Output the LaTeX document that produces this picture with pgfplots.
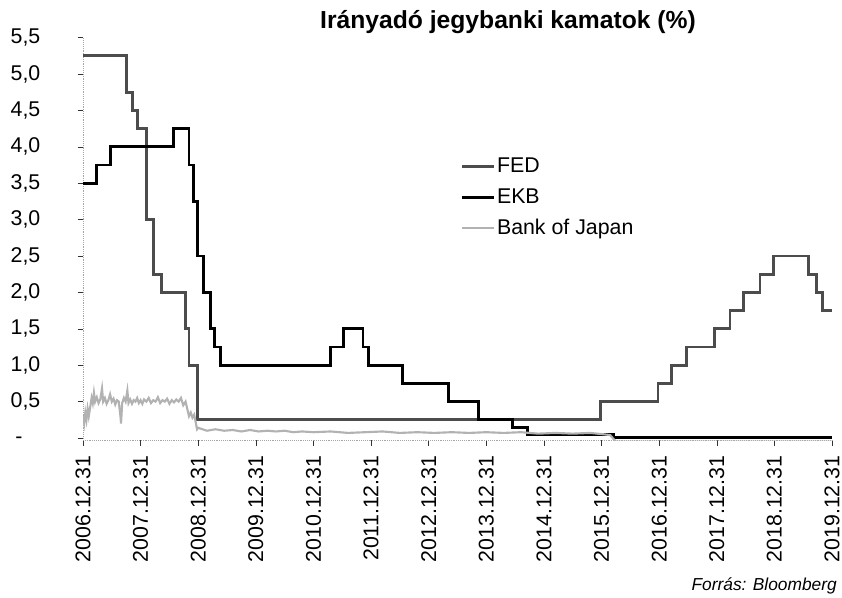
\documentclass[border=0pt]{standalone}
\usepackage{pgfplots}
\pgfplotsset{compat=1.18}
\usepackage{fontspec}
\setmainfont{Liberation Sans}
\begin{document}
\begin{tikzpicture}[x=1pt,y=1pt]
\useasboundingbox (0,0) rectangle (631.5,447.75);
\begin{axis}[
  at={(62.25pt,117.6pt)}, anchor=south west,
  scale only axis, width=561.75pt, height=301.95pt,
  xmin=2007, xmax=2020, ymin=-0.03, ymax=5.5,
  axis x line=bottom, axis y line=left,
  axis line style={gray!70, densely dotted, -},
  tick align=outside, major tick length=4pt,
  tick style={black!80, thin, solid},
  xtick={2007,2008,...,2020},
  xticklabels={2006.12.31,2007.12.31,2008.12.31,2009.12.31,2010.12.31,2011.12.31,2012.12.31,2013.12.31,2014.12.31,2015.12.31,2016.12.31,2017.12.31,2018.12.31,2019.12.31},
  xticklabel style={rotate=90, anchor=east, font=\fontsize{16}{19}\selectfont},
  xticklabel shift=4pt,
  ytick={0,0.5,...,5.5},
  yticklabels={{-\phantom{,5}},{0,5},{1,0},{1,5},{2,0},{2,5},{3,0},{3,5},{4,0},{4,5},{5,0},{5,5}},
  yticklabel style={anchor=east, font=\fontsize{16}{19}\selectfont},
  yticklabel shift=24.5pt,
  legend style={at={(rel axis cs:0.504,0.708)}, anchor=north west, draw=none, fill=none,
    font=\fontsize{16}{19}\selectfont, row sep=6.5pt, inner sep=0pt,
    nodes={inner xsep=1pt}},
  legend cell align=left,
  legend image code/.code={\draw[#1] (0pt,0pt) -- (24pt,0pt);},
]
% FED
\addplot[const plot, black!70, line width=2.2pt] coordinates {
(2007.00,5.25) (2007.76,4.75) (2007.86,4.50) (2007.95,4.25) (2008.10,3.00)
(2008.22,2.25) (2008.37,2.00) (2008.78,1.50) (2008.84,1.00) (2008.98,0.25)
(2015.98,0.50) (2016.98,0.75) (2017.22,1.00) (2017.47,1.25) (2017.96,1.50)
(2018.23,1.75) (2018.46,2.00) (2018.75,2.25) (2018.98,2.50) (2019.59,2.25)
(2019.73,2.00) (2019.84,1.75) (2020.00,1.75)};
\addlegendentry{FED}
% EKB
\addplot[const plot, black, line width=2.2pt] coordinates {
(2007.00,3.50) (2007.24,3.75) (2007.48,4.00) (2008.57,4.25) (2008.84,3.75)
(2008.92,3.25) (2008.99,2.50) (2009.09,2.00) (2009.21,1.50) (2009.28,1.25)
(2009.38,1.00) (2011.30,1.25) (2011.52,1.50) (2011.86,1.25) (2011.96,1.00)
(2012.55,0.75) (2013.35,0.50) (2013.86,0.25) (2014.45,0.15) (2014.71,0.05)
(2016.20,0.01) (2020.00,0.01)};
\addlegendentry{EKB}
% Bank of Japan
\addplot[gray!60, line width=1.6pt] coordinates {
(2007.00,0.30) (2007.02,0.20) (2007.04,0.35) (2007.06,0.25) (2007.08,0.40)
(2007.10,0.30) (2007.13,0.45) (2007.15,0.55) (2007.17,0.48) (2007.19,0.62)
(2007.21,0.50) (2007.24,0.56) (2007.27,0.48) (2007.30,0.53) (2007.33,0.68)
(2007.35,0.50) (2007.38,0.55) (2007.41,0.47) (2007.44,0.52) (2007.47,0.60)
(2007.50,0.50) (2007.53,0.54) (2007.56,0.46) (2007.59,0.52) (2007.62,0.50)
(2007.65,0.30) (2007.66,0.20) (2007.68,0.48) (2007.71,0.55) (2007.74,0.50)
(2007.77,0.65) (2007.79,0.48) (2007.82,0.53) (2007.85,0.47) (2007.88,0.52)
(2007.91,0.50) (2007.94,0.55) (2007.97,0.48) (2008.00,0.52) (2008.03,0.47)
(2008.06,0.53) (2008.10,0.50) (2008.14,0.55) (2008.18,0.48) (2008.22,0.52)
(2008.26,0.50) (2008.30,0.56) (2008.34,0.48) (2008.38,0.52) (2008.42,0.50)
(2008.46,0.54) (2008.50,0.47) (2008.54,0.52) (2008.58,0.49) (2008.62,0.53)
(2008.66,0.50) (2008.70,0.55) (2008.74,0.45) (2008.78,0.50) (2008.81,0.40)
(2008.84,0.30) (2008.87,0.35) (2008.90,0.28) (2008.93,0.32) (2008.96,0.20)
(2008.98,0.12) (2009.00,0.14) (2009.15,0.10) (2009.30,0.12) (2009.45,0.10)
(2009.60,0.11) (2009.75,0.09) (2009.90,0.11) (2010.05,0.09) (2010.20,0.10)
(2010.35,0.09) (2010.50,0.10) (2010.65,0.08) (2010.80,0.09) (2011.00,0.08)
(2011.30,0.09) (2011.60,0.07) (2011.90,0.08) (2012.20,0.09) (2012.50,0.07)
(2012.80,0.08) (2013.10,0.07) (2013.40,0.08) (2013.70,0.07) (2014.00,0.08)
(2014.30,0.07) (2014.60,0.08) (2014.90,0.06) (2015.20,0.07) (2015.50,0.06)
(2015.80,0.07) (2016.05,0.05) (2016.15,0.04) (2016.25,-0.05) (2020.00,-0.05)};
\addlegendentry{Bank of Japan}
\end{axis}
\node[font=\fontsize{18.5}{22}\selectfont\bfseries] at (381,431.25) {Irányadó jegybanki kamatok (\%)};
\node[font=\fontsize{13}{15}\selectfont\itshape, anchor=base east, inner sep=0pt] at (627.75,5.25) {Forrás: Bloomberg};
\end{tikzpicture}
\end{document}
